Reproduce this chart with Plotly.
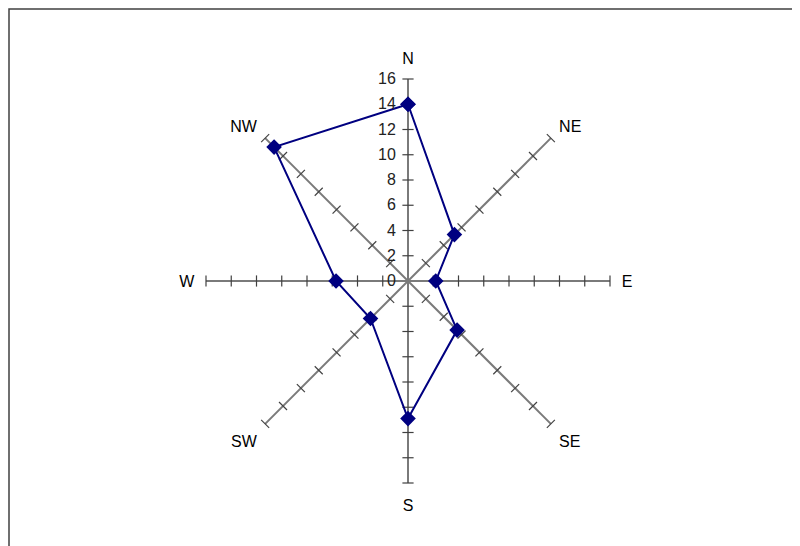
import plotly.graph_objects as go

directions = ['N', 'NE', 'E', 'SE', 'S', 'SW', 'W', 'NW']
values = [14, 5.2, 2.2, 5.5, 10.9, 4.2, 5.7, 15]
radial_ticks = [0, 2, 4, 6, 8, 10, 12, 14, 16]

W, H = 800, 546
off = 8  # page body margin
cx, cy, R = 408 - off, 281 - off, 202

# tick marks on every spoke, perpendicular to the spoke
perp = {'N': 'line-ew', 'S': 'line-ew', 'E': 'line-ns', 'W': 'line-ns',
        'NE': 'line-nw', 'SW': 'line-nw', 'NW': 'line-ne', 'SE': 'line-ne'}
tick_r, tick_t, tick_s = [], [], []
for d in directions:
    for r in radial_ticks[1:]:
        tick_r.append(r)
        tick_t.append(d)
        tick_s.append(perp[d])

ticks = go.Scatterpolar(
    r=tick_r, theta=tick_t, mode='markers',
    marker=dict(symbol=tick_s, size=8, line=dict(color='#404040', width=1.2)),
    hoverinfo='skip', showlegend=False
)

series = go.Scatterpolar(
    r=values + values[:1], theta=directions + directions[:1],
    mode='lines+markers',
    line=dict(color='#000080', width=2),
    marker=dict(symbol='diamond', size=12, color='#000080'),
    showlegend=False
)

fig = go.Figure(data=[ticks, series])
fig.update_layout(
    width=W, height=H,
    margin=dict(l=0, r=0, t=0, b=0),
    paper_bgcolor='white',
    font=dict(family='Arial, Liberation Sans, sans-serif', size=16, color='black'),
    polar=dict(
        domain=dict(x=[(cx - R) / W, (cx + R) / W], y=[1 - (cy + R) / H, 1 - (cy - R) / H]),
        bgcolor='rgba(0,0,0,0)',
        gridshape='linear',
        angularaxis=dict(
            categoryorder='array', categoryarray=directions,
            rotation=90, direction='clockwise',
            showline=False, showgrid=True, gridcolor='#7a7a7a', gridwidth=1.5,
            ticks='outside', ticklen=8, tickcolor='rgba(0,0,0,0)',
            tickfont=dict(size=16, color='black')
        ),
        radialaxis=dict(
            range=[0, 16], tickvals=radial_ticks, angle=90, side='counterclockwise',
            showgrid=False, showline=False, ticks='outside', ticklen=6,
            tickcolor='rgba(0,0,0,0)', tickangle=90,
            tickfont=dict(size=16, color='#222222')
        )
    ),
    shapes=[dict(type='rect', xref='paper', yref='paper',
                 x0=1 / W, x1=1.02, y0=-0.02, y1=1 - 1 / H,
                 line=dict(color='#404040', width=1.5))]
)
fig.write_html('out.html')
